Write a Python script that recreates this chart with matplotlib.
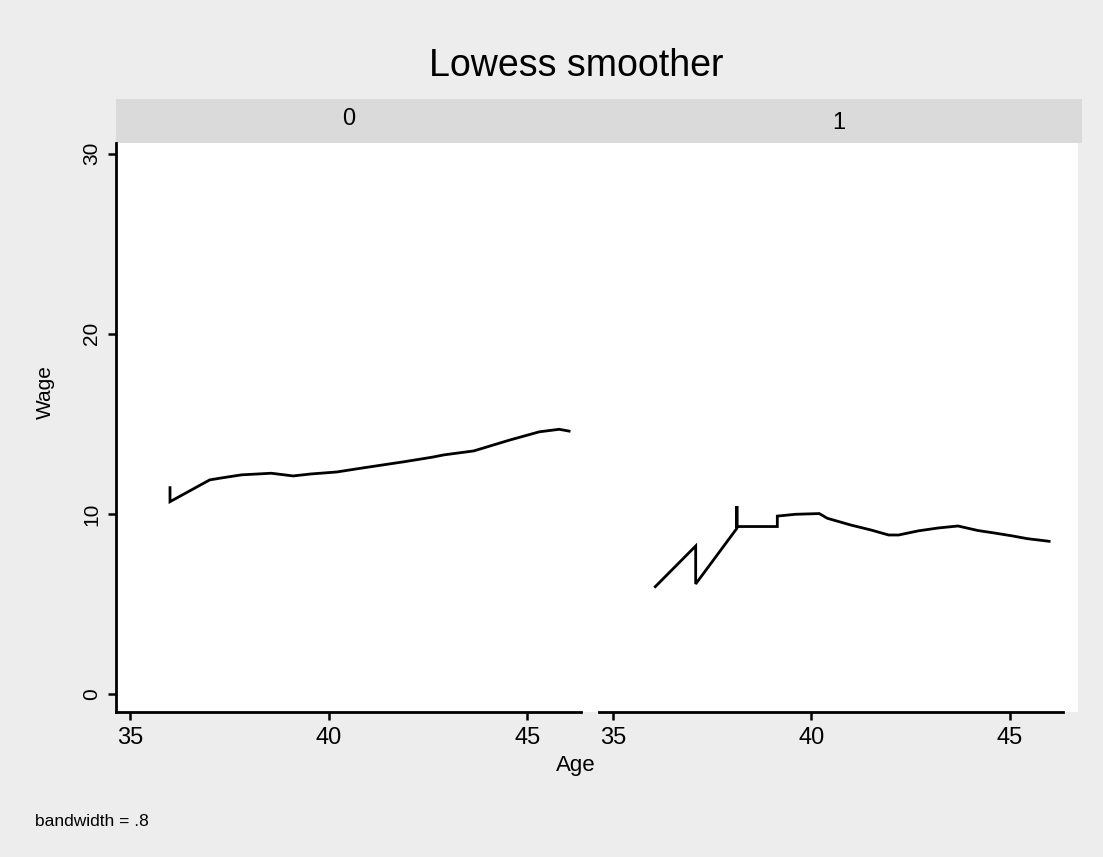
import matplotlib
matplotlib.use("Agg")
import matplotlib.pyplot as plt
from matplotlib.patches import Rectangle

# lowess fit, group 0
age0 = [36, 36, 37, 37.3, 37.8, 38.55, 39.1, 39.55, 40.2, 40.9, 41.9, 42.6, 42.9, 43.65, 44.55, 45.3, 45.8, 46.05]
wage0 = [11.46, 10.68, 11.89, 12.0, 12.17, 12.26, 12.11, 12.22, 12.33, 12.57, 12.9, 13.15, 13.28, 13.5, 14.1, 14.56, 14.7, 14.6]

# lowess fit, group 1
age1 = [36.06, 37.08, 37.08, 38.12, 38.12, 38.12, 39.14, 39.14, 39.6, 40.2, 40.4, 41.0, 41.5,
        41.95, 42.2, 42.7, 43.2, 43.7, 44.2, 44.65, 45.07, 45.44, 46.0]
wage1 = [5.96, 8.22, 6.11, 9.2, 10.44, 9.3, 9.3, 9.88, 9.98, 10.02, 9.76, 9.38, 9.11,
         8.83, 8.83, 9.06, 9.22, 9.33, 9.08, 8.93, 8.78, 8.63, 8.48]

groups = ["0", "1"]
xticks = [35, 40, 45]
yticks = [0, 10, 20, 30]

plt.rcParams['font.family'] = ['Liberation Sans', 'DejaVu Sans']

W, H = 1103, 857
fig = plt.figure(figsize=(W / 100, H / 100), dpi=100, facecolor="#ededed")


def box(x0, y0, x1, y1):
    # pixel box (top-left origin) -> figure fractions
    return [x0 / W, 1 - y1 / H, (x1 - x0) / W, (y1 - y0) / H]


# white plot region and the darker by-strip
r = box(116, 143, 1078, 712)
fig.add_artist(Rectangle((r[0], r[1]), r[2], r[3], transform=fig.transFigure,
                         facecolor="white", edgecolor="none", zorder=0))
r = box(116, 99, 1082, 143)
fig.add_artist(Rectangle((r[0], r[1]), r[2], r[3], transform=fig.transFigure,
                         facecolor="#dadada", edgecolor="none", zorder=0))

ax0 = fig.add_axes(box(116, 143, 581, 712))
ax1 = fig.add_axes(box(599, 143, 1063, 712))

for ax, x, y in [(ax0, age0, wage0), (ax1, age1, wage1)]:
    ax.set_facecolor("none")
    ax.plot(x, y, color="black", lw=2, solid_joinstyle="miter")
    ax.set_xlim(34.64, 46.35)
    ax.set_ylim(-1.0, 30.6)
    ax.set_xticks(xticks)
    for s in ["top", "right"]:
        ax.spines[s].set_visible(False)
    ax.spines["bottom"].set_linewidth(2)
    ax.spines["left"].set_linewidth(2)
    ax.tick_params(axis="x", length=6, width=1.8, pad=4.5, labelsize=17)
    ax.tick_params(axis="y", length=6, width=1.8, pad=4.5, labelsize=15)

ax0.set_yticks(yticks)
for lab in ax0.get_yticklabels():
    lab.set_rotation(90)
    lab.set_va("center")
ax1.spines["left"].set_visible(False)
ax1.set_yticks([])

# by-group strip labels
fig.text((116 + 581) / 2 / W, 1 - 119 / H, groups[0], fontsize=17, ha="center", va="center")
fig.text((599 + 1063) / 2 / W + 8 / W, 1 - 123 / H, groups[1], fontsize=17, ha="center", va="center")

fig.text(576 / W, 1 - 66 / H, "Lowess smoother", fontsize=27, ha="center", va="center")
fig.text(45 / W, 1 - 392 / H, "Wage", fontsize=15, rotation=90, ha="center", va="center")
fig.text(576 / W, 1 - 766 / H, "Age", fontsize=16, ha="center", va="center")
fig.text(35 / W, 1 - 822 / H, "bandwidth = .8", fontsize=12.5, ha="left", va="center")

fig.savefig("out.png", dpi=100, facecolor=fig.get_facecolor())
